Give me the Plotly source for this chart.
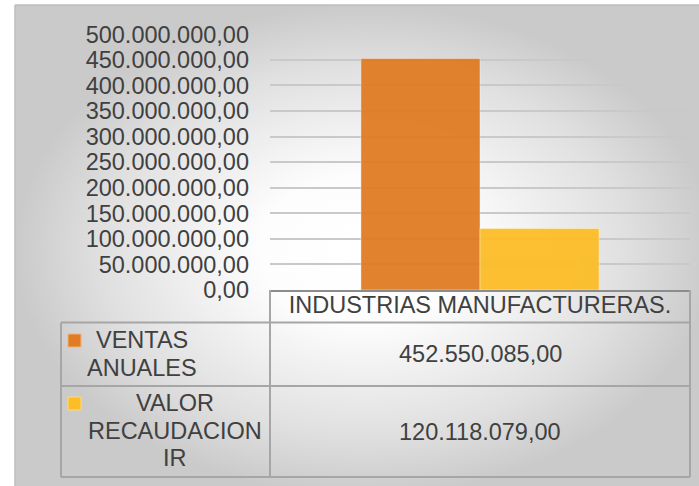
import plotly.graph_objects as go

# data
categories = ["INDUSTRIAS MANUFACTURERAS."]
series_names = ["VENTAS ANUALES", "VALOR RECAUDACION IR"]
ventas_anuales = [452550085.00]
valor_recaudacion_ir = [120118079.00]
series_values = [ventas_anuales, valor_recaudacion_ir]
series_colors = ["#E07C24", "#FCBD27"]
key_borders = ["#F2B27A", "#FFD97F"]

W, H = 699, 486
TXT = "#404040"
FONT = "Liberation Sans, Arial, sans-serif"
FS = 23.5


def px_x(v):
    return v / W


def px_y(v):
    return 1 - v / H


def fmt(v):
    s = f"{v:,.2f}"
    return s.replace(",", "X").replace(".", ",").replace("X", ".")


fig = go.Figure()

# radial grey background of the chart frame
fig.add_trace(go.Scatter(
    x=[px_x(15), 1.02, 1.02, px_x(15), px_x(15)],
    y=[px_y(5), px_y(5), -0.02, -0.02, px_y(5)],
    xaxis="x", yaxis="y",
    mode="lines", fill="toself",
    line=dict(color="#BFBFBF", width=1.5),
    fillgradient=dict(type="radial",
                      colorscale=[[0, "#FFFFFF"], [0.3, "#FDFDFD"],
                                  [0.75, "#E0E0E0"], [1, "#CACACA"]]),
    hoverinfo="skip", showlegend=False,
))

for name, vals, col in zip(series_names, series_values, series_colors):
    fig.add_trace(go.Bar(
        x=categories, y=vals, name=name, opacity=0.95,
        marker=dict(color=col, line=dict(color="rgba(255,255,255,0.4)", width=1)),
        xaxis="x2", yaxis="y2",
    ))

fig.update_layout(
    width=W, height=H,
    margin=dict(l=0, r=0, t=0, b=0, pad=0),
    paper_bgcolor="white",
    plot_bgcolor="rgba(0,0,0,0)",
    separators=",.",
    showlegend=False,
    barmode="group",
    bargap=0.433,
    bargroupgap=0.0,
    font=dict(family=FONT, size=FS, color=TXT),
    xaxis=dict(domain=[0, 1], range=[0, 1], visible=False, fixedrange=True,
               automargin=False),
    yaxis=dict(domain=[0, 1], range=[0, 1], visible=False, fixedrange=True,
               automargin=False),
    xaxis2=dict(domain=[px_x(270), px_x(690)], anchor="y2", type="category",
                showline=True, linecolor="#8C8C8C", linewidth=2, automargin=False,
                showgrid=False, ticks="", ticklabelstandoff=-7,
                tickfont=dict(size=FS, color=TXT)),
    yaxis2=dict(domain=[px_y(290), px_y(34.3)], anchor="x2", range=[0, 500e6],
                dtick=50e6, tickformat=",.2f", showgrid=True, automargin=False,
                gridcolor="#C9C9C9", gridwidth=1.5, zeroline=False,
                showline=False, ticklabelstandoff=20,
                tickfont=dict(size=FS, color=TXT)),
)

# data table grid
LC = "#A6A6A6"
lines = [
    (270, 290, 270, 477), (690, 290, 690, 477),
    (270, 322.5, 690, 322.5), (61, 322.5, 270, 322.5),
    (61, 386, 690, 386), (61, 477, 690, 477),
    (61, 322.5, 61, 477),
]
for x0, y0, x1, y1 in lines:
    fig.add_shape(type="line", xref="paper", yref="paper",
                  x0=px_x(x0), y0=px_y(y0), x1=px_x(x1), y1=px_y(y1),
                  line=dict(color=LC, width=2))

# rows: legend key, series name (wrapped), value
row_key_y = [334, 397]
row_label_x = [142, 174.5]
row_label_y = [354, 430.5]
row_value_y = [354, 432]
LINE_H = 27.5
for i, name in enumerate(series_names):
    fig.add_shape(type="rect", xref="paper", yref="paper",
                  x0=px_x(68), x1=px_x(81), y0=px_y(row_key_y[i]), y1=px_y(row_key_y[i] + 13),
                  fillcolor=series_colors[i], line=dict(color=key_borders[i], width=1))
    words = name.split(" ")
    first = row_label_y[i] - LINE_H * (len(words) - 1) / 2
    for j, w in enumerate(words):
        fig.add_annotation(xref="paper", yref="paper", x=px_x(row_label_x[i]),
                           y=px_y(first + j * LINE_H),
                           text=w, showarrow=False,
                           xanchor="center", yanchor="middle",
                           font=dict(size=FS, color=TXT))
    fig.add_annotation(xref="paper", yref="paper", x=px_x(480), y=px_y(row_value_y[i]),
                       text=fmt(series_values[i][0]), showarrow=False,
                       xanchor="center", yanchor="middle",
                       font=dict(size=FS, color=TXT))

fig.write_html("out.html", config={"displayModeBar": False},
               post_script="document.body.style.margin='0';")
